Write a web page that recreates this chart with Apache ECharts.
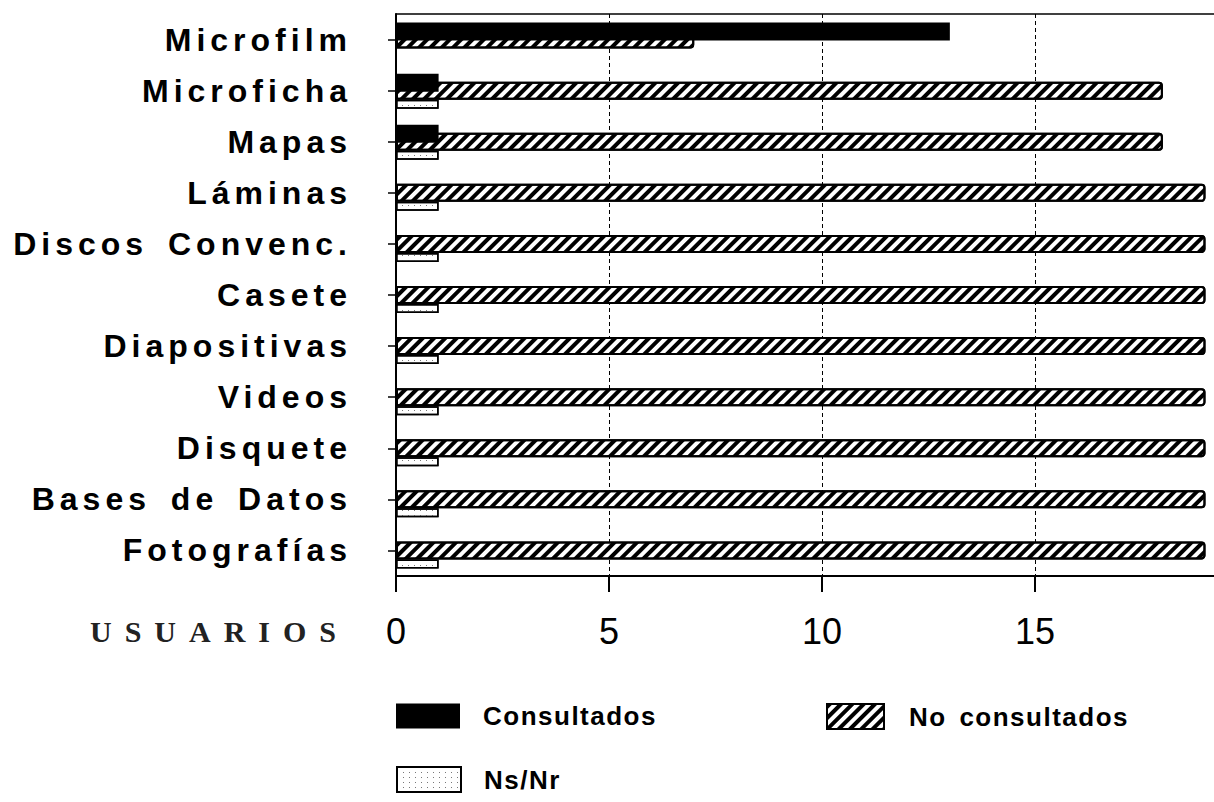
<!DOCTYPE html>
<html><head><meta charset="utf-8">
<script src="https://cdn.jsdelivr.net/npm/echarts@6/dist/echarts.min.js"></script>
<style>
html,body{margin:0;padding:0;background:#fff;}
#c{width:1214px;height:802px;}
#c text[style*="Liberation Sans"]{letter-spacing:5px;word-spacing:6px;}
#c text[style*="Arial"]{letter-spacing:1.5px;word-spacing:4px;}
#c text[style*="Liberation Serif"]{letter-spacing:13px;}
</style></head><body><div id="c"></div>
<script>
const categories = ['Microfilm','Microficha','Mapas','Láminas','Discos Convenc.','Casete','Diapositivas','Videos','Disquete','Bases de Datos','Fotografías'];
const consultados = [13,1,1,0,0,0,0,0,0,0,0];
const noConsultados = [7,18,18,19,19,19,19,19,19,19,19];
const nsNr = [0,1,1,1,1,1,1,1,1,1,1];
const axisName = 'USUARIOS';
const seriesNames = ['Consultados','No consultados','Ns/Nr'];

const hatch = { symbol:'rect', symbolSize:1, color:'#000', dashArrayX:[1,0], dashArrayY:[4,3.5], rotation:-Math.PI/4 };
const dots = { symbol:'rect', symbolSize:1, color:'#777', dashArrayX:[1,5], dashArrayY:[1,4], rotation:0 };

const chart = echarts.init(document.getElementById('c'), null, {renderer:'svg'});
const withBorderFix = arr => arr.map(v => v === 0 ? {value:0, itemStyle:{borderWidth:0}} : v);

chart.setOption({
  animation:false,
  backgroundColor:'#fff',
  grid:{left:396, right:0, top:14, bottom:226},
  xAxis:[{
    type:'value', min:0, max:19.2, interval:5,
    axisLine:{show:true, lineStyle:{color:'#000', width:2}},
    axisTick:{show:true, length:16, lineStyle:{color:'#000', width:2}},
    axisLabel:{show:true, margin:37, fontSize:36, fontFamily:'Helvetica', color:'#000', showMaxLabel:false},
    splitLine:{show:true, showMinLine:false, showMaxLine:false, lineStyle:{color:'#000', type:[4,3], width:1}}
  },{
    type:'value', position:'top', min:0, max:19.2,
    axisLine:{show:true, lineStyle:{color:'#000', width:1.5}},
    axisTick:{show:false}, axisLabel:{show:false}, splitLine:{show:false}
  }],
  yAxis:[{
    type:'category', data:categories, inverse:true,
    axisLine:{show:true, lineStyle:{color:'#000', width:2}},
    axisTick:{show:false},
    axisLabel:{show:true, margin:44, fontSize:32, fontWeight:'bold', fontFamily:'Liberation Sans', color:'#000'}
  },{
    type:'category', data:categories, inverse:true, position:'left', offset:11,
    axisLine:{show:false},
    axisTick:{show:true, alignWithLabel:true, length:8, lineStyle:{color:'#000', width:1.5}},
    axisLabel:{show:false}
  }],
  legend:[{
    data:[seriesNames[0]], left:396, top:703, padding:0, icon:'rect', itemWidth:64, itemHeight:25,
    textStyle:{fontSize:26, fontWeight:'bold', fontFamily:'Arial', color:'#000', padding:[0,0,0,18]}, selectedMode:false
  },{
    data:[seriesNames[1]], left:826, top:703, padding:0, icon:'rect', itemWidth:57, itemHeight:25,
    textStyle:{fontSize:26, fontWeight:'bold', fontFamily:'Arial', color:'#000', padding:[0,0,0,20]}, selectedMode:false
  },{
    data:[seriesNames[2]], left:396, top:766, padding:0, icon:'rect', itemWidth:64, itemHeight:25,
    textStyle:{fontSize:26, fontWeight:'bold', fontFamily:'Arial', color:'#000', padding:[0,0,0,18]}, selectedMode:false
  }],
  graphic:[{
    type:'text', left:90, top:616,
    style:{text:axisName, font:'bold 30px "Liberation Serif"', fill:'#222'}
  }],
  series:[
    {name:'_pad0', type:'bar', yAxisIndex:0, barWidth:9, barGap:'0%', data:[], silent:true},
    {name:seriesNames[1], type:'bar', yAxisIndex:0, barWidth:18, barGap:'0%', data:noConsultados,
     itemStyle:{color:'#fff', borderColor:'#000', borderWidth:2, borderRadius:[0,3,3,0], decal:hatch}},
    {name:seriesNames[2], type:'bar', yAxisIndex:0, barWidth:9, barGap:'0%', data:withBorderFix(nsNr),
     itemStyle:{color:'#fff', borderColor:'#000', borderWidth:1.5, decal:dots}},
    {name:seriesNames[0], type:'bar', yAxisIndex:1, barWidth:18, barGap:'0%', data:consultados, z:5,
     itemStyle:{color:'#000'}},
    {name:'_pad1', type:'bar', yAxisIndex:1, barWidth:16, barGap:'0%', data:[], silent:true}
  ]
});
</script></body></html>
